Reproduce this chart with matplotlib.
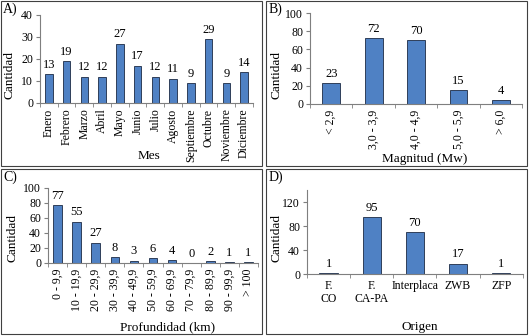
import matplotlib
matplotlib.use("Agg")
import matplotlib.pyplot as plt
from matplotlib.patches import Rectangle

plt.rcParams['font.family'] = ['Liberation Serif', 'DejaVu Serif']

# datos
meses = ["Enero", "Febrero", "Marzo", "Abril", "Mayo", "Junio", "Julio",
         "Agosto", "Septiembre", "Octubre", "Noviembre", "Diciembre"]
cant_meses = [13, 19, 12, 12, 27, 17, 12, 11, 9, 29, 9, 14]

magnitudes = ["< 2,9", "3,0 - 3,9", "4,0 - 4,9", "5,0 - 5,9", "> 6,0"]
cant_magnitud = [23, 72, 70, 15, 4]

profundidades = ["0 - 9,9", "10 - 19,9", "20 - 29,9", "30 - 39,9", "40 - 49,9",
                 "50 - 59,9", "60 - 69,9", "70 - 79,9", "80 - 89,9",
                 "90 - 99,9", "> 100"]
cant_profundidad = [77, 55, 27, 8, 3, 6, 4, 0, 2, 1, 1]

origenes = ["F.\nCO", "F.\nCA-PA", "Interplaca", "ZWB", "ZFP"]
cant_origen = [1, 95, 70, 17, 1]

BAR_COLOR = "#4f81c4"
EDGE = "#1c2a44"
AX_COLOR = "#7f7f7f"
W, H = 529.0, 336.0


def panel(fig, rect, cats, vals, ylim, yticks, xlabel, rot, width,
          xlab_pos, ylab_pos):
    ax = fig.add_axes(rect)
    x = range(len(cats))
    ax.bar(x, vals, width=width, color=BAR_COLOR, edgecolor=EDGE, linewidth=0.6)
    for i, v in zip(x, vals):
        ax.annotate(str(v), (i, v), xytext=(0, 2.5), textcoords="offset points",
                    ha="center", va="bottom", fontsize=9)
    ax.set_xlim(-0.5, len(cats) - 0.5)
    ax.set_ylim(*ylim)
    ax.set_yticks(yticks)
    ax.set_xticks(list(x))
    ax.set_xticklabels(cats, rotation=rot, fontsize=8.5, linespacing=1.2)
    ax.set_xticks([i - 0.5 for i in range(len(cats) + 1)], minor=True)
    ax.tick_params(axis="x", which="major", length=0, pad=4)
    ax.tick_params(axis="x", which="minor", length=3, color=AX_COLOR)
    ax.tick_params(axis="y", length=3, color=AX_COLOR, labelsize=8.5, pad=2)
    for s in ("top", "right"):
        ax.spines[s].set_visible(False)
    for s in ("left", "bottom"):
        ax.spines[s].set_color(AX_COLOR)
        ax.spines[s].set_linewidth(0.8)
    # titulos de ejes en posicion fija (pixeles de la figura)
    fig.text(xlab_pos[0] / W, 1 - xlab_pos[1] / H, xlabel,
             ha="center", va="center", fontsize=9.5)
    fig.text(ylab_pos[0] / W, 1 - ylab_pos[1] / H, "Cantidad",
             ha="center", va="center", rotation=90, fontsize=9.5)
    return ax


fig = plt.figure(figsize=(5.29, 3.36), dpi=100)

# marcos de cada panel
for (x0, y0, x1, y1) in [(1, 1, 262, 166), (266, 1, 527, 166),
                         (1, 169, 262, 334), (266, 169, 527, 334)]:
    fig.patches.append(Rectangle((x0 / W, 1 - y1 / H), (x1 - x0) / W, (y1 - y0) / H,
                                 transform=fig.transFigure, fill=False,
                                 edgecolor="#404040", linewidth=0.8))

panel(fig, [0.0756, 0.6935, 0.4026, 0.2619], meses, cant_meses,
      (0, 40), [0, 10, 20, 30, 40], "Mes", 90, 0.42,
      (149, 156), (10, 75))
panel(fig, [0.586, 0.6905, 0.4008, 0.2708], magnitudes, cant_magnitud,
      (0, 100), [0, 20, 40, 60, 80, 100], "Magnitud (Mw)", 90, 0.42,
      (425, 159), (277, 75))
panel(fig, [0.0907, 0.2173, 0.397, 0.2232], profundidades, cant_profundidad,
      (0, 100), [0, 20, 40, 60, 80, 100], "Profundidad (km)", 90, 0.45,
      (168, 327), (13, 238))
panel(fig, [0.5803, 0.1845, 0.408, 0.25], origenes, cant_origen,
      (0, 140), [0, 40, 80, 120], "Origen", 0, 0.42,
      (420, 327), (277, 238))

for txt, (px, py) in [("A)", (3, 3)), ("B)", (269, 3)),
                      ("C)", (3, 171)), ("D)", (269, 171))]:
    fig.text(px / W, 1 - py / H, txt, ha="left", va="top", fontsize=10)

fig.savefig("out.png", dpi=100)
